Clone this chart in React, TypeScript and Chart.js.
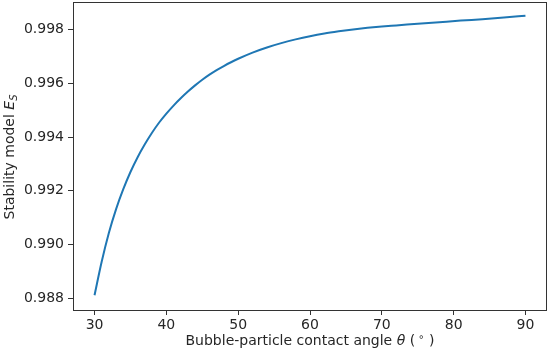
import React, { useEffect, useRef } from "react";
import { Chart, registerables } from "chart.js";

Chart.register(...registerables);

// Contact angle θ (degrees)
const thetaDeg = [
  30, 31, 32, 33, 34, 35, 36, 37, 38, 39, 40, 41, 42, 43, 44, 45, 46, 47, 48, 49, 50,
  52, 54, 56, 58, 60, 62, 64, 66, 68, 70, 72, 75, 78, 81, 84, 87, 90,
];
// Stability model E_S
const stabilityEs = [
  0.98812, 0.98937, 0.99044, 0.99132, 0.99206, 0.9927, 0.99325, 0.99373, 0.99416, 0.99454,
  0.99487, 0.99517, 0.99544, 0.99569, 0.99592, 0.99613, 0.99632, 0.99649, 0.99664, 0.99678,
  0.99691, 0.99714, 0.99733, 0.99749, 0.99763, 0.99775, 0.99785, 0.99793, 0.998, 0.99806,
  0.99811, 0.99815, 0.99821, 0.99827, 0.99833, 0.99838, 0.99844, 0.99851,
];

const xTickValues = [30, 40, 50, 60, 70, 80, 90];
const yTickValues = [0.988, 0.99, 0.992, 0.994, 0.996, 0.998];

const FONT = "DejaVu Sans";
const TEXT_COLOR = "#262626";
const AXIS_COLOR = "#333333";

type Seg = { t: string; italic?: boolean; size?: number; dy?: number };

function drawSegments(ctx: CanvasRenderingContext2D, segs: Seg[], baseSize: number) {
  const widths = segs.map((s) => {
    ctx.font = `${s.italic ? "italic " : ""}${s.size ?? baseSize}px "${FONT}"`;
    return ctx.measureText(s.t).width;
  });
  const total = widths.reduce((a, b) => a + b, 0);
  let x = -total / 2;
  segs.forEach((s, i) => {
    ctx.font = `${s.italic ? "italic " : ""}${s.size ?? baseSize}px "${FONT}"`;
    ctx.fillText(s.t, x, s.dy ?? 0);
    x += widths[i];
  });
}

const framePlugin = {
  id: "frameAndTitles",
  afterDraw(chart: any) {
    const ctx: CanvasRenderingContext2D = chart.ctx;
    const { left, right, top, bottom } = chart.chartArea;
    ctx.save();
    ctx.strokeStyle = AXIS_COLOR;
    ctx.lineWidth = 1;
    ctx.strokeRect(Math.round(left) + 0.5, Math.round(top) + 0.5, Math.round(right - left) - 1, Math.round(bottom - top));
    ctx.fillStyle = TEXT_COLOR;
    ctx.textBaseline = "alphabetic";
    ctx.textAlign = "left";
    // x title
    ctx.save();
    ctx.translate((left + right) / 2, 345);
    drawSegments(
      ctx,
      [
        { t: "Bubble-particle contact angle " },
        { t: "θ", italic: true },
        { t: " (" },
        { t: " ∘", size: 10, dy: -5 },
        { t: " )" },
      ],
      14
    );
    ctx.restore();
    // y title
    ctx.save();
    ctx.translate(14, (top + bottom) / 2 + 1);
    ctx.rotate(-Math.PI / 2);
    drawSegments(
      ctx,
      [
        { t: "Stability model " },
        { t: "E", italic: true },
        { t: "S", italic: true, size: 10, dy: 3 },
      ],
      14
    );
    ctx.restore();
    ctx.restore();
  },
};

export default function App() {
  const ref = useRef<HTMLCanvasElement | null>(null);
  useEffect(() => {
    if (!ref.current) return;
    const points = thetaDeg.map((x, i) => ({ x, y: stabilityEs[i] }));
    const chart = new Chart(ref.current, {
      type: "line",
      data: {
        datasets: [
          {
            data: points,
            borderColor: "#1f77b4",
            borderWidth: 2,
            pointRadius: 0,
            fill: false,
            cubicInterpolationMode: "monotone",
          },
        ],
      },
      options: {
        responsive: false,
        animation: false,
        devicePixelRatio: 1,
        layout: { padding: { top: 2, right: 3, left: 0, bottom: 0 } },
        plugins: { legend: { display: false }, tooltip: { enabled: false } },
        scales: {
          x: {
            type: "linear",
            min: 27,
            max: 93,
            afterBuildTicks: (scale: any) => {
              scale.ticks = xTickValues.map((v) => ({ value: v }));
            },
            afterFit: (scale: any) => {
              scale.height = 46;
              scale.paddingLeft = 0;
              scale.paddingRight = 0;
            },
            ticks: {
              color: TEXT_COLOR,
              font: { family: FONT, size: 14 },
              padding: 2,
              maxRotation: 0,
              callback: (v: any) => String(v),
            },
            grid: { drawOnChartArea: false, drawTicks: true, tickLength: 5, color: AXIS_COLOR },
            border: { display: false },
          },
          y: {
            type: "linear",
            min: 0.98757,
            max: 0.99902,
            afterBuildTicks: (scale: any) => {
              scale.ticks = yTickValues.map((v) => ({ value: v }));
            },
            afterFit: (scale: any) => {
              scale.width = 73;
              scale.paddingTop = 0;
              scale.paddingBottom = 0;
            },
            ticks: {
              color: TEXT_COLOR,
              font: { family: FONT, size: 14 },
              padding: 4,
              callback: (v: any) => Number(v).toFixed(3),
            },
            grid: { drawOnChartArea: false, drawTicks: true, tickLength: 5, color: AXIS_COLOR },
            border: { display: false },
          },
        },
      },
      plugins: [framePlugin],
    });
    return () => chart.destroy();
  }, []);
  return (
    <div style={{ position: "fixed", left: 0, top: 0, width: 550, height: 356, background: "#fff" }}>
      <canvas ref={ref} width={550} height={356} />
    </div>
  );
}
